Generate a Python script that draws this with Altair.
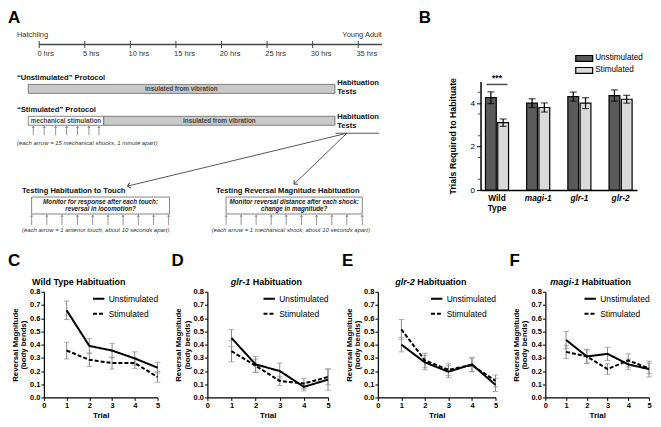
import math
import altair as alt
import pandas as pd

FONT = "Liberation Sans"

# ---------------- Panel A : schematic of the protocol ----------------
timeline_hours = [0, 5, 10, 15, 20, 25, 30, 35]
timeline_labels = ["0 hrs", "5 hrs", "10 hrs", "15 hrs", "20 hrs", "25 hrs", "30 hrs", "35 hrs"]
timeline_span = [0, 37.6]
stim_arrow_hours = [-0.65, 0.55, 1.8, 3.0, 4.2, 5.45, 6.55]
touch_arrow_hours = [-0.83, 0.84, 2.5, 4.2, 5.87, 7.55, 9.2, 10.87, 12.54, 14.2]
shock_arrow_hours = [20.5, 22.15, 23.8, 25.45, 27.1, 28.77, 30.43, 32.1, 33.75, 35.44]

box_x0 = [-1.2, -1.2, 7.08, -0.83, 20.5]
box_x1 = [32.45, 7.08, 32.45, 14.3, 35.44]
box_y0 = [75, 107, 107, 188, 188]
box_y1 = [84, 116, 116, 205, 205]
box_fill = ["#c9c9c9", "#ffffff", "#c9c9c9", "#ffffff", "#ffffff"]

A_texts = [
    ("A", -3.42, 0, "letter"),
    ("Hatchling", -2.44, 25, "small_left"),
    ("Young Adult", 37.6, 25, "small_right"),
    ("\u201cUnstimulated\u201d Protocol", -2.44, 69, "head"),
    ("insulated from vibration", 15.6, 79.5, "bar"),
    ("Habituation", 32.7, 74, "head"),
    ("Tests", 32.7, 83, "head"),
    ("\u201cStimulated\u201d Protocol", -2.44, 101, "head"),
    ("mechanical stimulation", 2.94, 111.5, "bar"),
    ("insulated from vibration", 19.77, 111.5, "bar"),
    ("Habituation", 32.7, 108, "head"),
    ("Tests", 32.7, 117, "head"),
    ("(each arrow  = 15 mechanical shocks, 1 minute apart)", -2.44, 134, "note"),
    ("Testing Habituation to Touch", -1.89, 182, "head"),
    ("Monitor for response after each touch:", 6.73, 193, "boxtext"),
    ("reversal in locomotion?", 6.73, 200, "boxtext"),
    ("(each arrow  = 1 anterior touch, about 10 seconds apart)", -1.89, 221, "note"),
    ("Testing Reversal Magnitude Habituation", 19.4, 182, "head"),
    ("Monitor reversal distance after each shock:", 27.97, 193, "boxtext"),
    ("change in magnitude?", 27.97, 200, "boxtext"),
    ("(each arrow  = 1 mechanical shock, about 10 seconds apart)", 18.9, 221, "note"),
]
tests_line = [32.5, 37.3, 124]
long_arrow_start = [33.75, 124]
long_arrow_end_h = [9.7, 27.96]
long_arrow_end_y = [177, 175]

# ---------------- Panel B ----------------
cats_B = ["Wild Type", "magi-1", "glr-1", "glr-2"]
groups = ["Unstimulated", "Stimulated"]
unstim_B = [4.25, 4.0, 4.3, 4.35]
unstim_B_err = [0.27, 0.2, 0.21, 0.26]
stim_B = [3.1, 3.8, 4.0, 4.18]
stim_B_err = [0.17, 0.21, 0.25, 0.18]
minor_ticks_B = [0.5, 1.5, 2.5, 3.5, 4.5]

# ---------------- Panels C-F ----------------
trials = [1, 2, 3, 4, 5]
wt_unstim = [0.66, 0.39, 0.355, 0.295, 0.225]
wt_unstim_err = [0.07, 0.055, 0.055, 0.05, 0.04]
wt_stim = [0.355, 0.285, 0.26, 0.26, 0.155]
wt_stim_err = [0.063, 0.05, 0.045, 0.04, 0.04]

glr1_unstim = [0.45, 0.25, 0.2, 0.08, 0.135]
glr1_unstim_err = [0.065, 0.06, 0.06, 0.03, 0.08]
glr1_stim = [0.35, 0.24, 0.125, 0.105, 0.155]
glr1_stim_err = [0.08, 0.05, 0.035, 0.04, 0.06]

glr2_unstim = [0.40, 0.265, 0.195, 0.25, 0.095]
glr2_unstim_err = [0.055, 0.055, 0.045, 0.055, 0.05]
glr2_stim = [0.515, 0.28, 0.21, 0.245, 0.125]
glr2_stim_err = [0.075, 0.055, 0.045, 0.05, 0.045]

magi_unstim = [0.435, 0.31, 0.33, 0.25, 0.215]
magi_unstim_err = [0.065, 0.055, 0.05, 0.04, 0.06]
magi_stim = [0.345, 0.31, 0.215, 0.28, 0.22]
magi_stim_err = [0.05, 0.05, 0.04, 0.05, 0.04]

# =====================================================================
# Panel A plot area sits level with panel B (flush layout); its drawing
# extends above/left of the area.
WA, HA = 400, 109
xA_dom = [0.514, 44.26]
yA_dom = [72, 72 + HA]
xsA = alt.Scale(domain=xA_dom, nice=False, zero=False)
ysA = alt.Scale(domain=yA_dom, reverse=True, nice=False, zero=False)


def XA(f):
    return alt.X(f"{f}:Q", scale=xsA, axis=None)


def YA(f):
    return alt.Y(f"{f}:Q", scale=ysA, axis=None)


tl_df = pd.DataFrame({"h0": [timeline_span[0]], "h1": [timeline_span[1]], "y": [35]})
timeline = alt.Chart(tl_df).mark_rule(color="#444", strokeWidth=1.6).encode(
    x=XA("h0"), x2="h1", y=YA("y"))
tick_df = pd.DataFrame({"h": timeline_hours, "y0": 31.5, "y1": 38.5,
                        "lab": timeline_labels, "hl": [h - 0.2 for h in timeline_hours], "yl": 45})
ticksA = alt.Chart(tick_df).mark_rule(color="#444", strokeWidth=1).encode(
    x=XA("h"), y=YA("y0"), y2="y1")
tick_lab = alt.Chart(tick_df).mark_text(align="left", baseline="middle", fontSize=7.5, color="#333").encode(
    x=XA("hl"), y=YA("yl"), text="lab:N")

box_df = pd.DataFrame({"x0": box_x0, "x1": box_x1, "y0": box_y0, "y1": box_y1, "fill": box_fill})
boxes = alt.Chart(box_df).mark_rect(stroke="#666", strokeWidth=0.8).encode(
    x=XA("x0"), x2="x1", y=YA("y0"), y2="y1", fill=alt.Fill("fill:N", scale=None))

arr_rows = ([(h, 126, 117.5) for h in stim_arrow_hours]
            + [(h, 216, 206.5) for h in touch_arrow_hours]
            + [(h, 216, 206.5) for h in shock_arrow_hours])
arr_df = pd.DataFrame(arr_rows, columns=["h", "yt", "yh"])
arr_lines = alt.Chart(arr_df).mark_rule(color="#888", strokeWidth=0.9).encode(
    x=XA("h"), y=YA("yt"), y2="yh")
arr_heads = alt.Chart(arr_df).mark_point(shape="triangle-up", filled=True, color="#888", size=9, opacity=1).encode(
    x=XA("h"), y=YA("yh"))

tests_df = pd.DataFrame({"h0": [tests_line[0]], "h1": [tests_line[1]], "y": [tests_line[2]]})
tests_rule = alt.Chart(tests_df).mark_rule(color="#444", strokeWidth=0.9).encode(
    x=XA("h0"), x2="h1", y=YA("y"))

pxh = WA / (xA_dom[1] - xA_dom[0])
pxy = HA / (yA_dom[1] - yA_dom[0])
la_rows = []
for he, ye in zip(long_arrow_end_h, long_arrow_end_y):
    dx = (he - long_arrow_start[0]) * pxh
    dy = (ye - long_arrow_start[1]) * pxy
    ang = math.degrees(math.atan2(dx, -dy)) % 360
    la_rows.append((long_arrow_start[0], long_arrow_start[1], he, ye, ang))
la_df = pd.DataFrame(la_rows, columns=["h0", "y0", "h1", "y1", "ang"])
la_lines = alt.Chart(la_df).mark_rule(color="#444", strokeWidth=0.9).encode(
    x=XA("h0"), y=YA("y0"), x2="h1", y2="y1")
la_heads = alt.Chart(la_df).mark_point(shape="M-1,1L0,0L1,1", filled=False, color="#333",
                                        strokeWidth=1, size=30, opacity=1).encode(
    x=XA("h1"), y=YA("y1"), angle=alt.Angle("ang:Q", scale=None))

styles = {
    "letter": dict(fontSize=17, fontWeight="bold", align="left", baseline="top", color="black"),
    "small_left": dict(fontSize=7.5, align="left", baseline="middle", color="#333"),
    "small_right": dict(fontSize=7.5, align="right", baseline="middle", color="#333"),
    "head": dict(fontSize=7.6, fontWeight="bold", align="left", baseline="middle", color="#111"),
    "bar": dict(fontSize=6.4, fontWeight="bold", align="center", baseline="middle", color="#444"),
    "boxtext": dict(fontSize=6.3, fontWeight="bold", fontStyle="italic", align="center", baseline="middle", color="#222"),
    "note": dict(fontSize=6, fontStyle="italic", align="left", baseline="middle", color="#333"),
}
txt_df = pd.DataFrame(A_texts, columns=["text", "h", "y", "style"])
text_layers = []
for st, kw in styles.items():
    sub = txt_df[txt_df["style"] == st]
    text_layers.append(alt.Chart(sub).mark_text(**kw).encode(x=XA("h"), y=YA("y"), text="text:N"))

chartA = alt.layer(boxes, timeline, ticksA, tick_lab, arr_lines, arr_heads, tests_rule,
                   la_lines, la_heads, *text_layers).properties(width=WA, height=HA)

# =====================================================================
rows = []
for c, v, e in zip(cats_B, unstim_B, unstim_B_err):
    rows.append((c, "Unstimulated", v, v - e, v + e))
for c, v, e in zip(cats_B, stim_B, stim_B_err):
    rows.append((c, "Stimulated", v, v - e, v + e))
dfB = pd.DataFrame(rows, columns=["cat", "group", "value", "lo", "hi"])

xB = alt.X("cat:N", sort=cats_B, scale=alt.Scale(paddingInner=0.44, paddingOuter=0.12),
           axis=alt.Axis(title=None, labelExpr="split(datum.label, ' ')", labelAngle=0,
                         labelFontWeight="bold", labelFontSize=8.3, labelPadding=3,
                         labelFontStyle={"condition": {"test": "datum.value == 'Wild Type'", "value": "normal"},
                                         "value": "italic"},
                         ticks=False, domainWidth=1.5, labelLineHeight=10, labelOverlap=False))
xoB = alt.XOffset("group:N", sort=groups, scale=alt.Scale(paddingInner=0.12))
yB_scale = alt.Scale(domain=[0, 5], nice=False)
yB_axis = alt.Axis(title="Trials Required to  Habituate", values=[0, 1, 2, 3, 4, 5], labelFontSize=8,
                   titleFontSize=8.8, titleFontWeight="bold", tickSize=4, domainWidth=1.5,
                   labelPadding=2, titlePadding=13, labelOverlap=False)

legend_path = "M-2,-0.7L2,-0.7L2,0.7L-2,0.7Z"
barsB = alt.Chart(dfB).mark_bar(stroke="black", strokeWidth=1.2).encode(
    x=xB, xOffset=xoB,
    y=alt.Y("value:Q", scale=yB_scale, axis=yB_axis),
    fill=alt.Fill("group:N", sort=groups,
                  scale=alt.Scale(domain=groups, range=["#5a5a5a", "#dadada"]),
                  legend=alt.Legend(orient="none", legendX=99, legendY=-28, title=None,
                                    symbolType=legend_path, symbolSize=72,
                                    symbolStrokeColor="black", symbolStrokeWidth=1.2,
                                    labelFontSize=8.2, labelColor="black", labelOffset=6,
                                    rowPadding=0, symbolOpacity=1)),
)
errB = alt.Chart(dfB).mark_rule(color="black", strokeWidth=1.2).encode(
    x=alt.X("cat:N", sort=cats_B), xOffset=alt.XOffset("group:N", sort=groups), y="lo:Q", y2="hi:Q")
capLoB = alt.Chart(dfB).mark_tick(color="black", size=7, thickness=1.2).encode(
    x=alt.X("cat:N", sort=cats_B), xOffset=alt.XOffset("group:N", sort=groups), y="lo:Q")
capHiB = alt.Chart(dfB).mark_tick(color="black", size=7, thickness=1.2).encode(
    x=alt.X("cat:N", sort=cats_B), xOffset=alt.XOffset("group:N", sort=groups), y="hi:Q")
minorB = alt.Chart(pd.DataFrame({"m": minor_ticks_B})).mark_tick(
    color="black", size=2.5, thickness=1, orient="horizontal").encode(
    x=alt.value(-1.5), y=alt.Y("m:Q"))

sig_df = pd.DataFrame({"cat": ["Wild Type"], "y": [4.86], "label": ["***"]})
sig_line = alt.Chart(sig_df).mark_tick(color="black", size=21, thickness=1.5).encode(
    x=alt.X("cat:N", sort=cats_B), y="y:Q")
sig_txt = alt.Chart(sig_df).mark_text(fontSize=8.5, fontWeight="bold", baseline="bottom", dy=-1).encode(
    x=alt.X("cat:N", sort=cats_B), y="y:Q", text="label:N")
letterB = alt.Chart(pd.DataFrame({"t": ["B"]})).mark_text(
    fontSize=17, fontWeight="bold", align="left", baseline="top").encode(
    text="t:N", x=alt.value(-62), y=alt.value(-72))

chartB = alt.layer(barsB, errB, capLoB, capHiB, minorB, sig_line, sig_txt, letterB).properties(width=157, height=109)

# =====================================================================
HP = 106


def habit_panel(letter, italic_part, rest, unstim, unstim_err, stim, stim_err, wp, title_x):
    recs = []
    for t, v, e in zip(trials, unstim, unstim_err):
        recs.append((t, "Unstimulated", v, v - e, v + e))
    for t, v, e in zip(trials, stim, stim_err):
        recs.append((t, "Stimulated", v, v - e, v + e))
    df = pd.DataFrame(recs, columns=["trial", "group", "value", "lo", "hi"])
    xs = alt.Scale(domain=[0, 5], nice=False, zero=True)
    ys = alt.Scale(domain=[0, 0.8], nice=False, zero=True)
    xax = alt.Axis(values=[0, 1, 2, 3, 4, 5], format="d", title="Trial", labelFontSize=7.5,
                   labelFontWeight="bold", titleFontSize=8, titleFontWeight="bold", tickSize=3,
                   domainWidth=1.2, labelPadding=1, titlePadding=3, labelOverlap=False,
                   labelFlush=False, grid=False)
    yax = alt.Axis(values=[0, 0.1, 0.2, 0.3, 0.4, 0.5, 0.6, 0.7, 0.8], format=".1f",
                   title=["Reversal Magnitude", "(body bends)"], labelFontSize=7.5,
                   labelFontWeight="bold", titleFontSize=7.8, titleFontWeight="bold",
                   titleLineHeight=8.5, tickSize=3, domainWidth=1.2, labelPadding=1, titlePadding=2,
                   labelOverlap=False, labelFlush=False, grid=False)

    def X(f):
        return alt.X(f, scale=xs, axis=xax, title="Trial")

    def Y(f):
        return alt.Y(f, scale=ys, axis=yax, title=["Reversal Magnitude", "(body bends)"])

    base = alt.Chart(df)
    err = base.mark_rule(color="#8c8c8c", strokeWidth=1).encode(
        x=X("trial:Q"), y=Y("lo:Q"), y2="hi:Q")
    cap_lo = base.mark_tick(color="#8c8c8c", size=5.5, thickness=1, orient="horizontal").encode(
        x=X("trial:Q"), y=Y("lo:Q"))
    cap_hi = base.mark_tick(color="#8c8c8c", size=5.5, thickness=1, orient="horizontal").encode(
        x=X("trial:Q"), y=Y("hi:Q"))
    lines = base.mark_line(color="black", strokeWidth=2).encode(
        x=X("trial:Q"), y=Y("value:Q"),
        strokeDash=alt.StrokeDash("group:N", sort=groups,
                                  scale=alt.Scale(domain=groups, range=[[1, 0], [4, 2]]),
                                  legend=alt.Legend(orient="none", legendX=wp - 66, legendY=0, title=None,
                                                    symbolType="stroke", symbolSize=130,
                                                    symbolStrokeWidth=2, symbolStrokeColor="black",
                                                    labelFontSize=8.5, labelColor="black",
                                                    labelOffset=3, rowPadding=3)))
    one = pd.DataFrame({"t": [letter]})
    let = alt.Chart(one).mark_text(fontSize=17, fontWeight="bold", align="left", baseline="top").encode(
        text="t:N", x=alt.value(-36), y=alt.value(-39))
    layers = [err, cap_lo, cap_hi, lines, let]
    if italic_part:
        t1 = alt.Chart(pd.DataFrame({"t": [italic_part]})).mark_text(
            fontSize=9, fontWeight="bold", fontStyle="italic", align="right").encode(
            text="t:N", x=alt.value(title_x), y=alt.value(-10))
        t2 = alt.Chart(pd.DataFrame({"t": [rest]})).mark_text(
            fontSize=9, fontWeight="bold", align="left").encode(
            text="t:N", x=alt.value(title_x + 2.5), y=alt.value(-10))
        layers += [t1, t2]
    else:
        t1 = alt.Chart(pd.DataFrame({"t": [rest]})).mark_text(
            fontSize=9, fontWeight="bold", align="center").encode(
            text="t:N", x=alt.value(title_x), y=alt.value(-10))
        layers += [t1]
    return alt.layer(*layers).properties(width=wp, height=HP)


chartC = habit_panel("C", "", "Wild Type Habituation", wt_unstim, wt_unstim_err, wt_stim, wt_stim_err, 114, 35)
chartD = habit_panel("D", "glr-1", "Habituation", glr1_unstim, glr1_unstim_err, glr1_stim, glr1_stim_err, 121, 43)
chartE = habit_panel("E", "glr-2", "Habituation", glr2_unstim, glr2_unstim_err, glr2_stim, glr2_stim_err, 118, 37)
chartF = habit_panel("F", "magi-1", "Habituation", magi_unstim, magi_unstim_err, magi_stim, magi_stim_err, 104, 34)

top = alt.hconcat(chartA, chartB, spacing=38, bounds="flush").resolve_scale(
    fill="independent").resolve_legend(fill="independent")
bottom = alt.hconcat(chartC, chartD, chartE, chartF, spacing=50, bounds="flush").resolve_scale(
    strokeDash="independent").resolve_legend(strokeDash="independent")

chart = alt.vconcat(top, bottom, spacing=211, bounds="flush", padding=0).resolve_scale(
    strokeDash="independent", fill="independent").resolve_legend(
    strokeDash="independent", fill="independent").configure(
    font=FONT).configure_view(stroke=None).configure_axis(
    domainColor="black", tickColor="black", labelColor="black", titleColor="black", grid=False)

chart.save("out.html", embed_options={"renderer": "svg", "actions": False})
